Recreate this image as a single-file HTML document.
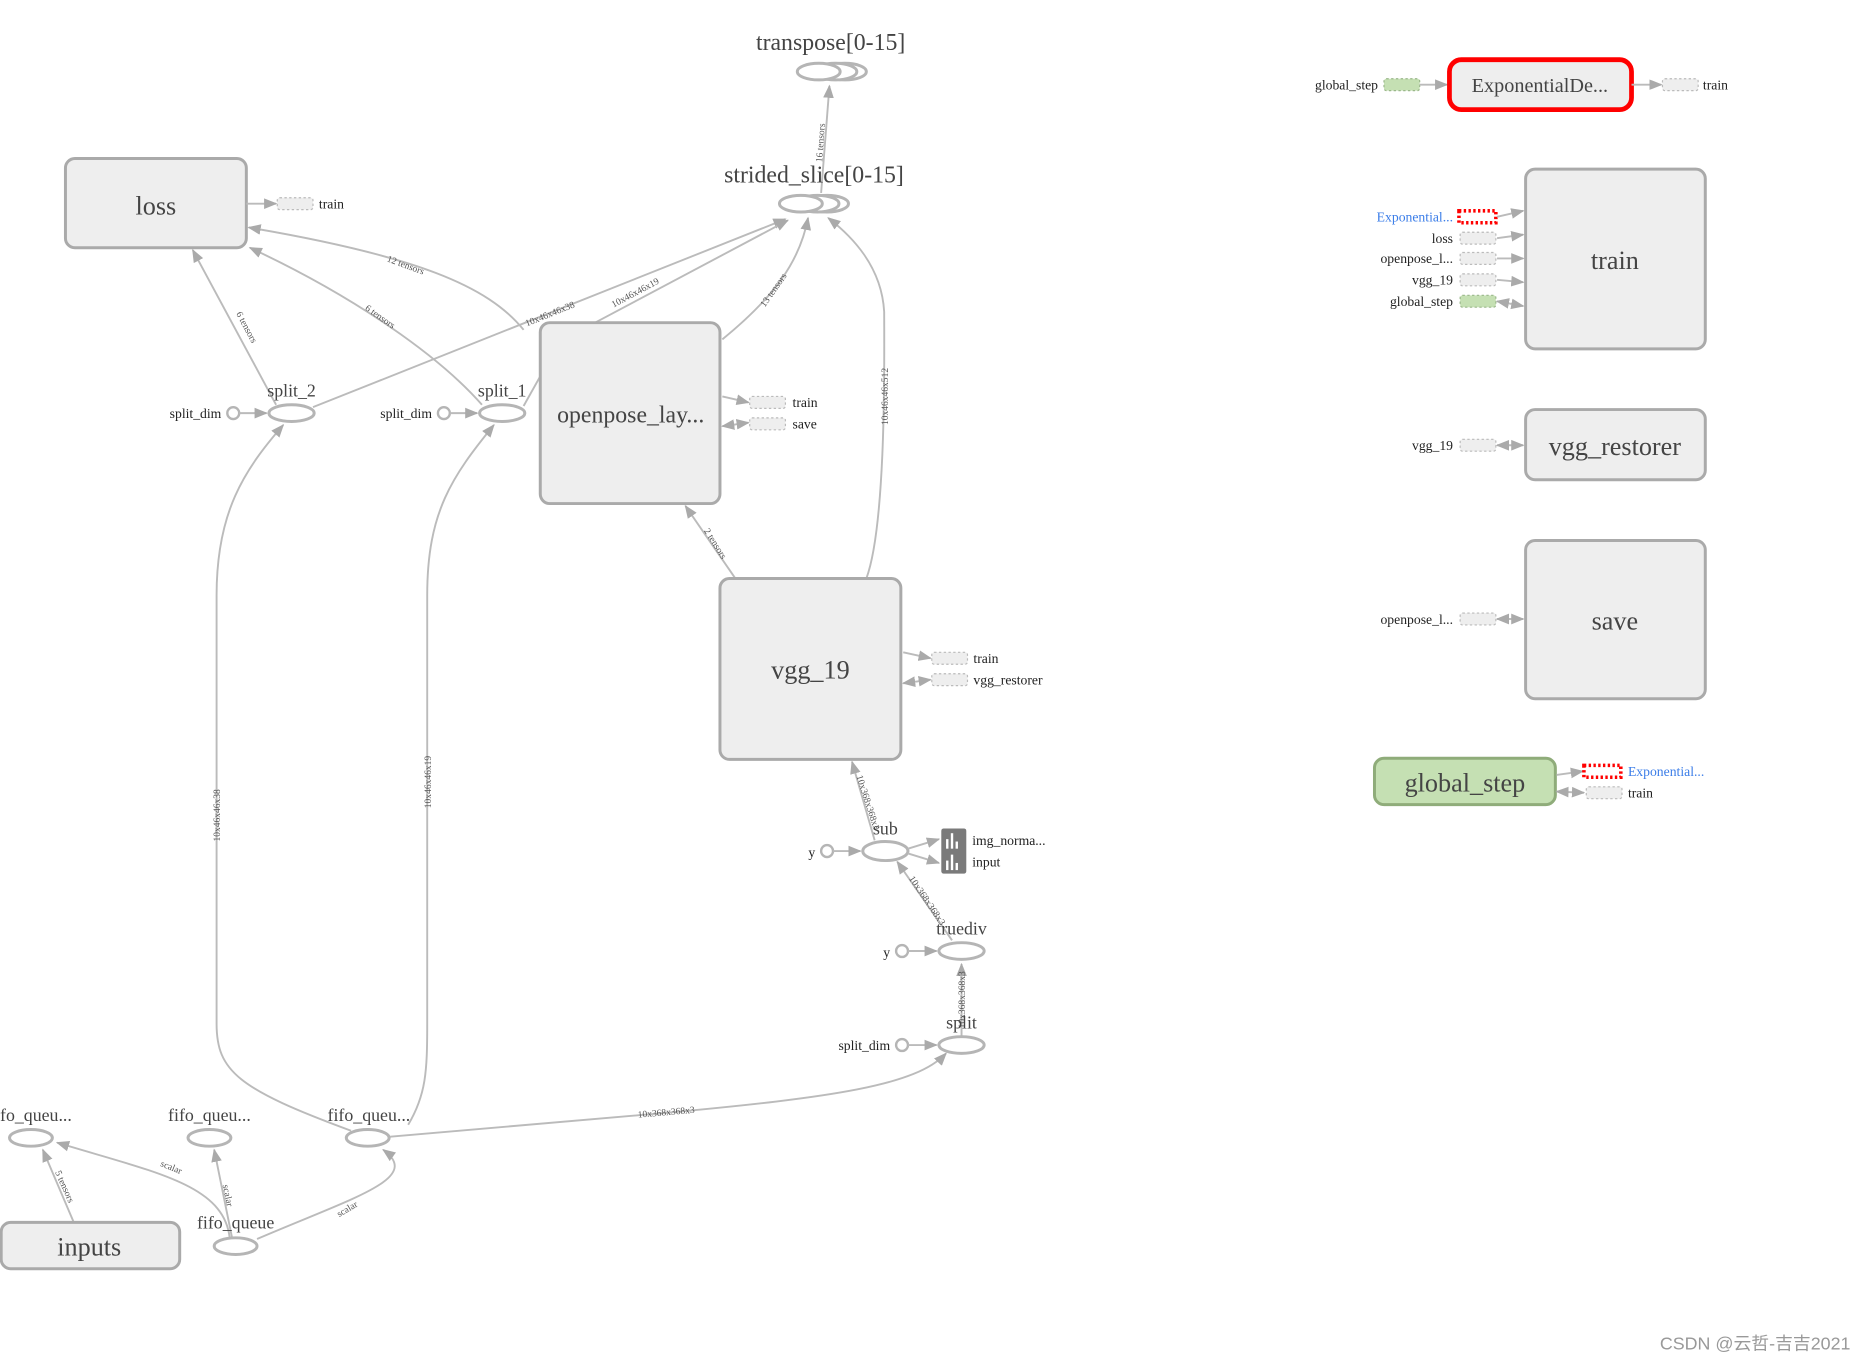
<!DOCTYPE html>
<html><head><meta charset="utf-8"><style>
html,body{margin:0;padding:0;background:#fff;width:1860px;height:1357px;overflow:hidden}
svg{display:block}
text{font-family:"Liberation Serif",serif;fill:#333}
.n{font-size:20px;text-anchor:middle;fill:#444}
.b{font-size:22px;text-anchor:middle;fill:#444}
.s{font-size:11.5px;fill:#222}
.r{text-anchor:end}
.e{font-size:8px;fill:#555;text-anchor:middle}
.ln{fill:none;stroke:#bbb;stroke-width:1.6}
.box{fill:#eee;stroke:#aaa;stroke-width:2.5}
.el{fill:#fff;stroke:#b5b5b5;stroke-width:2.5}
.stub{fill:#eee;stroke:#bbb;stroke-width:1;stroke-dasharray:2,2}
.g{fill:#c5e0b3;stroke:#9ab88a;stroke-width:1;stroke-dasharray:2,2}
.red{fill:#fff;stroke:#f00;stroke-width:8;stroke-dasharray:2,2}
</style></head><body>
<svg width="1860" height="1357" viewBox="0 0 1563 1140" xmlns="http://www.w3.org/2000/svg">
<defs>
<marker id="a" viewBox="0 0 10 10" refX="9" refY="5" markerWidth="7" markerHeight="7" orient="auto-start-reverse"><path d="M0,1 L10,5 L0,9 z" fill="#aaa"/></marker>
</defs>

<!-- edges -->
<path class="ln" d="M690,162 L697,72" marker-end="url(#a)"/>
<text class="e" transform="translate(692,120) rotate(-86)">16 tensors</text>
<path class="ln" d="M232,340 L162,210" marker-end="url(#a)"/>
<text class="e" transform="translate(205,276) rotate(62)">6 tensors</text>
<path class="ln" d="M405,340 C370,300 300,250 210,208" marker-end="url(#a)"/>
<text class="e" transform="translate(318,268) rotate(35)">6 tensors</text>
<path class="ln" d="M440,277 C410,240 350,215 209,191" marker-end="url(#a)"/>
<text class="e" transform="translate(340,225) rotate(20)">12 tensors</text>
<path class="ln" d="M263,342 L660,184" marker-end="url(#a)"/>
<text class="e" transform="translate(463,266) rotate(-22)">10x46x46x38</text>
<path class="ln" d="M500,271 L662,185" marker-end="url(#a)"/>
<text class="e" transform="translate(535,248) rotate(-28)">10x46x46x19</text>
<path class="ln" d="M607,285 C650,250 672,220 679,183" marker-end="url(#a)"/>
<text class="e" transform="translate(652,245) rotate(-55)">13 tensors</text>
<path class="ln" d="M728,486 C745,440 743,300 743,262 C741,225 718,200 696,183" marker-end="url(#a)"/>
<text class="e" transform="translate(746,333) rotate(-90)">10x46x46x512</text>
<path class="ln" d="M618,486 L576,425" marker-end="url(#a)"/>
<text class="e" transform="translate(599,458) rotate(58)">2 tensors</text>
<path class="ln" d="M440,341 L454,316"/>
<path class="ln" d="M735,706 L716,640" marker-end="url(#a)"/>
<text class="e" transform="translate(727,675) rotate(72)">10x368x368x3</text>
<path class="ln" d="M800,790 L754,724" marker-end="url(#a)"/>
<text class="e" transform="translate(777,758) rotate(56)">10x368x368x3</text>
<path class="ln" d="M808,870 L808,810" marker-end="url(#a)"/>
<text class="e" transform="translate(811,840) rotate(-90)">10x368x368x3</text>
<path class="ln" d="M62,1027 L36,966" marker-end="url(#a)"/>
<text class="e" transform="translate(52,998) rotate(66)">5 tensors</text>
<path class="ln" d="M193,1040 C188,995 130,985 48,960" marker-end="url(#a)"/>
<text class="e" transform="translate(143,983) rotate(22)">scalar</text>
<path class="ln" d="M195,1040 L180,966" marker-end="url(#a)"/>
<text class="e" transform="translate(189,1005) rotate(78)">scalar</text>
<path class="ln" d="M216,1041 C300,1005 355,990 322,966" marker-end="url(#a)"/>
<text class="e" transform="translate(293,1018) rotate(-30)">scalar</text>
<path class="ln" d="M295,950 C200,915 182,900 182,860 L182,500 C182,430 205,395 238,357" marker-end="url(#a)"/>
<text class="e" transform="translate(185,685) rotate(-90)">10x46x46x38</text>
<path class="ln" d="M343,945 C358,920 359,900 359,860 L359,500 C359,430 380,400 415,357" marker-end="url(#a)"/>
<text class="e" transform="translate(362,657) rotate(-90)">10x46x46x19</text>
<path class="ln" d="M328,955 L560,935 C700,922 770,912 795,885" marker-end="url(#a)"/>
<text class="e" transform="translate(560,937) rotate(-5)">10x368x368x3</text>

<!-- top nodes -->
<text class="n" x="698" y="42">transpose[0-15]</text>
<ellipse class="el" cx="710" cy="60" rx="18" ry="7"/><ellipse class="el" cx="702" cy="60" rx="18" ry="7"/><ellipse class="el" cx="688" cy="60" rx="18" ry="7"/>
<text class="n" x="684" y="153">strided_slice[0-15]</text>
<ellipse class="el" cx="695" cy="171" rx="18" ry="7"/><ellipse class="el" cx="687" cy="171" rx="18" ry="7"/><ellipse class="el" cx="673" cy="171" rx="18" ry="7"/>

<!-- loss -->
<rect class="box" x="55" y="133" width="152" height="75" rx="8"/>
<text class="b" x="131" y="180">loss</text>
<path class="ln" d="M207,171 L232,171" marker-end="url(#a)"/>
<rect class="stub" x="233" y="166" width="30" height="10" rx="2"/><text class="s" x="268" y="175">train</text>

<!-- openpose -->
<rect class="box" x="454" y="271" width="151" height="152" rx="8"/>
<text class="n" x="530" y="355">openpose_lay...</text>
<path class="ln" d="M607,333 L629,338" marker-end="url(#a)"/>
<rect class="stub" x="630" y="333" width="30" height="10" rx="2"/><text class="s" x="666" y="342">train</text>
<path class="ln" d="M607,358 L629,355" marker-start="url(#a)" marker-end="url(#a)"/>
<rect class="stub" x="630" y="351" width="30" height="10" rx="2"/><text class="s" x="666" y="360">save</text>

<!-- vgg_19 -->
<rect class="box" x="605" y="486" width="152" height="152" rx="8"/>
<text class="b" x="681" y="570">vgg_19</text>
<path class="ln" d="M759,548 L782,553" marker-end="url(#a)"/>
<rect class="stub" x="783" y="548" width="30" height="10" rx="2"/><text class="s" x="818" y="557">train</text>
<path class="ln" d="M759,574 L782,571" marker-start="url(#a)" marker-end="url(#a)"/>
<rect class="stub" x="783" y="566" width="30" height="10" rx="2"/><text class="s" x="818" y="575">vgg_restorer</text>

<!-- splits -->
<text class="n" x="245" y="333" style="font-size:15px">split_2</text>
<ellipse class="el" cx="245" cy="347" rx="19" ry="7"/>
<circle class="el" cx="196" cy="347" r="5" style="stroke-width:2"/>
<text class="s r" x="186" y="351">split_dim</text>
<path class="ln" d="M201,347 L224,347" marker-end="url(#a)"/>
<text class="n" x="422" y="333" style="font-size:15px">split_1</text>
<ellipse class="el" cx="422" cy="347" rx="19" ry="7"/>
<circle class="el" cx="373" cy="347" r="5" style="stroke-width:2"/>
<text class="s r" x="363" y="351">split_dim</text>
<path class="ln" d="M378,347 L401,347" marker-end="url(#a)"/>

<!-- sub / truediv / split -->
<text class="n" x="744" y="701" style="font-size:15px">sub</text>
<ellipse class="el" cx="744" cy="715" rx="19" ry="8"/>
<circle class="el" cx="695" cy="715" r="5" style="stroke-width:2"/>
<text class="s r" x="685" y="720">y</text>
<path class="ln" d="M700,715 L723,715" marker-end="url(#a)"/>
<path class="ln" d="M763,713 L789,705" marker-end="url(#a)"/>
<path class="ln" d="M763,717 L789,725" marker-end="url(#a)"/>
<rect x="791" y="696" width="21" height="38" rx="2" fill="#7a7a7a"/>
<g fill="#fff"><rect x="795" y="705" width="2" height="8"/><rect x="799" y="700" width="2" height="13"/><rect x="803" y="707" width="2" height="6"/>
<rect x="795" y="723" width="2" height="8"/><rect x="799" y="718" width="2" height="13"/><rect x="803" y="725" width="2" height="6"/></g>
<text class="s" x="817" y="710">img_norma...</text>
<text class="s" x="817" y="728">input</text>

<text class="n" x="808" y="785" style="font-size:15px">truediv</text>
<ellipse class="el" cx="808" cy="799" rx="19" ry="7"/>
<circle class="el" cx="758" cy="799" r="5" style="stroke-width:2"/>
<text class="s r" x="748" y="804">y</text>
<path class="ln" d="M763,799 L787,799" marker-end="url(#a)"/>

<text class="n" x="808" y="864" style="font-size:15px">split</text>
<ellipse class="el" cx="808" cy="878" rx="19" ry="7"/>
<circle class="el" cx="758" cy="878" r="5" style="stroke-width:2"/>
<text class="s r" x="748" y="882">split_dim</text>
<path class="ln" d="M763,878 L787,878" marker-end="url(#a)"/>

<!-- fifo -->
<text class="n" x="0" y="942" style="font-size:15px;text-anchor:start">fo_queu...</text>
<ellipse class="el" cx="26" cy="956" rx="18" ry="7"/>
<text class="n" x="176" y="942" style="font-size:15px">fifo_queu...</text>
<ellipse class="el" cx="176" cy="956" rx="18" ry="7"/>
<text class="n" x="310" y="942" style="font-size:15px">fifo_queu...</text>
<ellipse class="el" cx="309" cy="956" rx="18" ry="7"/>
<text class="n" x="198" y="1032" style="font-size:15px">fifo_queue</text>
<ellipse class="el" cx="198" cy="1047" rx="18" ry="7"/>
<rect class="box" x="1" y="1027" width="150" height="39" rx="8"/>
<text class="b" x="75" y="1055">inputs</text>

<!-- right side -->
<text class="s r" x="1158" y="75">global_step</text>
<rect class="g" x="1163" y="66" width="30" height="10" rx="2"/>
<path class="ln" d="M1193,71 L1216,71" marker-end="url(#a)"/>
<rect x="1218" y="50" width="153" height="42" rx="10" fill="#eee" stroke="#f00" stroke-width="4"/>
<text class="n" x="1294" y="77" style="font-size:17px">ExponentialDe...</text>
<path class="ln" d="M1371,71 L1396,71" marker-end="url(#a)"/>
<rect class="stub" x="1397" y="66" width="30" height="10" rx="2"/><text class="s" x="1431" y="75">train</text>

<rect class="box" x="1282" y="142" width="151" height="151" rx="8"/>
<text class="b" x="1357" y="226">train</text>
<text class="s r" x="1221" y="186" style="fill:#3b7de8">Exponential...</text>
<rect x="1226" y="177" width="31" height="10" fill="#fff" stroke="#f00" stroke-width="3" stroke-dasharray="2,2"/>
<path class="ln" d="M1258,182 L1280,177" marker-end="url(#a)"/>
<text class="s r" x="1221" y="204">loss</text><rect class="stub" x="1227" y="195" width="30" height="10" rx="2"/>
<path class="ln" d="M1258,200 L1280,197" marker-end="url(#a)"/>
<text class="s r" x="1221" y="221">openpose_l...</text><rect class="stub" x="1227" y="212" width="30" height="10" rx="2"/>
<path class="ln" d="M1258,217 L1280,217" marker-end="url(#a)"/>
<text class="s r" x="1221" y="239">vgg_19</text><rect class="stub" x="1227" y="230" width="30" height="10" rx="2"/>
<path class="ln" d="M1258,235 L1280,237" marker-end="url(#a)"/>
<text class="s r" x="1221" y="257">global_step</text><rect class="g" x="1227" y="248" width="30" height="10" rx="2"/>
<path class="ln" d="M1258,253 L1280,257" marker-start="url(#a)" marker-end="url(#a)"/>

<rect class="box" x="1282" y="344" width="151" height="59" rx="8"/>
<text class="b" x="1357" y="382">vgg_restorer</text>
<text class="s r" x="1221" y="378">vgg_19</text><rect class="stub" x="1227" y="369" width="30" height="10" rx="2"/>
<path class="ln" d="M1258,374 L1280,374" marker-start="url(#a)" marker-end="url(#a)"/>

<rect class="box" x="1282" y="454" width="151" height="133" rx="8"/>
<text class="b" x="1357" y="529">save</text>
<text class="s r" x="1221" y="524">openpose_l...</text><rect class="stub" x="1227" y="515" width="30" height="10" rx="2"/>
<path class="ln" d="M1258,520 L1280,520" marker-start="url(#a)" marker-end="url(#a)"/>

<rect x="1155" y="637" width="152" height="39" rx="8" fill="#c5e0b3" stroke="#8fac7a" stroke-width="2.5"/>
<text class="b" x="1231" y="665">global_step</text>
<path class="ln" d="M1308,651 L1330,648" marker-end="url(#a)"/>
<rect x="1331" y="643" width="31" height="10" fill="#fff" stroke="#f00" stroke-width="3" stroke-dasharray="2,2"/>
<text class="s" x="1368" y="652" style="fill:#3b7de8">Exponential...</text>
<path class="ln" d="M1308,665 L1331,666" marker-start="url(#a)" marker-end="url(#a)"/>
<rect class="stub" x="1333" y="661" width="30" height="10" rx="2"/><text class="s" x="1368" y="670">train</text>

<text x="1555" y="1134" style="font-family:'Liberation Sans','Noto Sans CJK SC',sans-serif;font-size:15px;fill:#999;text-anchor:end">CSDN @云哲-吉吉2021</text>
</svg>
</body></html>
